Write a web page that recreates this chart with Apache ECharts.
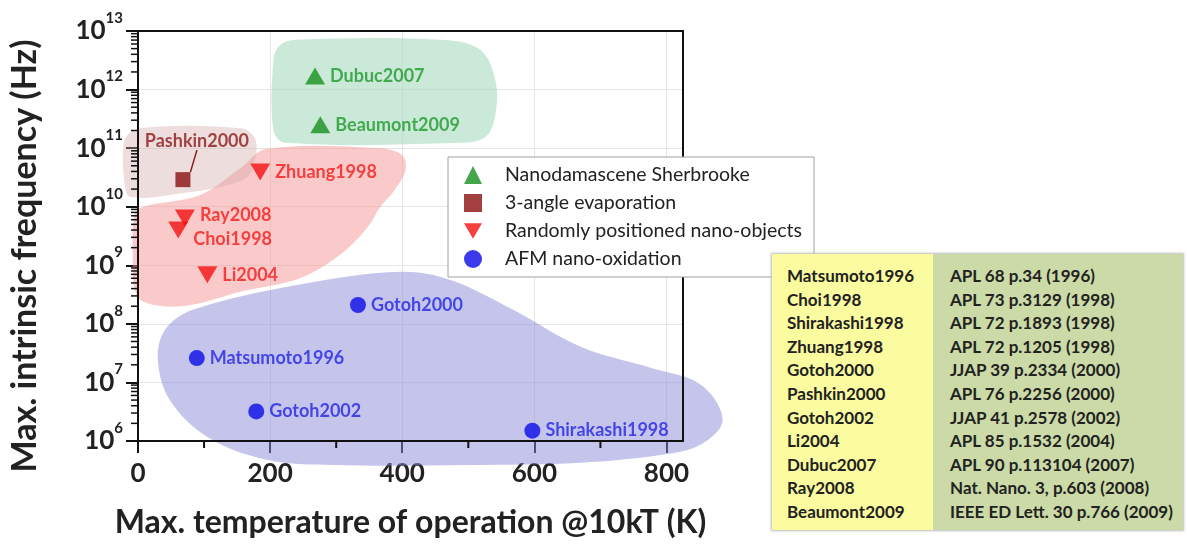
<!DOCTYPE html>
<html>
<head>
<meta charset="utf-8">
<script src="https://cdn.jsdelivr.net/npm/echarts@6/dist/echarts.min.js"></script>
<style>
html, body { margin: 0; padding: 0; background: #fff; }
#wrap { position: relative; width: 1187px; height: 544px; overflow: hidden; }
#chart { position: absolute; left: 0; top: 0; width: 1187px; height: 544px; }
#refs { position: absolute; left: 772px; top: 254px; width: 411px; height: 276px; display: flex;
        font: bold 17px Lato, sans-serif; color: #222; box-shadow: 0 0 2px 1px #bbb; z-index: 5; }
#refs .c1 { width: 161px; background: #fbfb9f; padding: 10px 0 0 15px; box-sizing: border-box; }
#refs .c2 { flex: 1; background: #cbdaa6; padding: 10px 0 0 17px; box-sizing: border-box; }
#refs .row { height: 23.6px; line-height: 23.6px; white-space: nowrap; }
</style>
</head>
<body>
<div id="wrap">
  <div id="chart"></div>
  <div id="refs"><div class="c1" id="refKeys"></div><div class="c2" id="refCites"></div></div>
</div>
<script>
// measured points: temperature (K), max frequency (Hz)
const sherbNames = ['Dubuc2007', 'Beaumont2009'];
const sherbTemp = [268, 276];
const sherbFreq = [1.7e12, 2.5e11];

const evapNames = ['Pashkin2000'];
const evapTemp = [68];
const evapFreq = [2.9e10];

const randNames = ['Zhuang1998', 'Ray2008', 'Choi1998', 'Li2004'];
const randTemp = [185, 71, 61, 105];
const randFreq = [3.9e10, 6.4e9, 4.0e9, 6.9e8];

const afmNames = ['Gotoh2000', 'Matsumoto1996', 'Gotoh2002', 'Shirakashi1998'];
const afmTemp = [333, 89, 179, 597];
const afmFreq = [2.1e8, 2.6e7, 3.2e6, 1.5e6];

// shaded zones, outline as [K, log10(Hz)]
const greenZone = [[238, 12.85], [458, 12.85], [518, 12.68], [541, 12.16], [541, 11.57], [526, 11.19],
  [488, 11.09], [223, 11.09], [205, 11.31], [205, 12.51], [215, 12.76]];
const brownZone = [[3, 11.34], [155, 11.34], [177, 11.17], [177, 10.80], [160, 10.46], [48, 10.20],
  [-12, 10.17], [-20, 10.37], [-20, 11.14]];
const redZone = [[8, 10.0], [94, 10.2], [155, 10.66], [195, 10.99], [367, 11.0], [400, 10.88], [405, 10.63],
  [389, 10.29], [367, 10.0], [347, 9.64], [306, 9.18], [245, 8.78], [155, 8.55], [79, 8.32], [26, 8.32],
  [-2, 8.49], [-8, 9.26], [-5, 9.86]];
const blueZone = [[83, 8.24], [245, 8.67], [397, 8.89], [473, 8.75], [568, 8.24], [670, 7.61], [776, 7.25],
  [852, 6.96], [885, 6.36], [852, 5.94], [791, 5.76], [670, 5.63], [503, 5.59], [295, 5.59], [195, 5.68],
  [105, 6.07], [48, 6.70], [30, 7.39], [41, 7.90]];

const xTicks = [0, 200, 400, 600, 800];
const xMinor = [100, 300, 500, 700];

const refKeys = ['Matsumoto1996', 'Choi1998', 'Shirakashi1998', 'Zhuang1998', 'Gotoh2000', 'Pashkin2000',
  'Gotoh2002', 'Li2004', 'Dubuc2007', 'Ray2008', 'Beaumont2009'];
const refCites = ['APL 68 p.34 (1996)', 'APL 73 p.3129 (1998)', 'APL 72 p.1893 (1998)', 'APL 72 p.1205 (1998)',
  'JJAP 39 p.2334 (2000)', 'APL 76 p.2256 (2000)', 'JJAP 41 p.2578 (2002)', 'APL 85 p.1532 (2004)',
  'APL 90 p.113104 (2007)', 'Nat. Nano. 3, p.603 (2008)', 'IEEE ED Lett. 30 p.766 (2009)'];

document.getElementById('refKeys').innerHTML = refKeys.map(k => '<div class="row">' + k + '</div>').join('');
document.getElementById('refCites').innerHTML = refCites.map(k => '<div class="row">' + k + '</div>').join('');

const yMinor = [];
for (let e = 6; e < 13; e++) {
  for (let m = 2; m <= 9; m++) yMinor.push(m * Math.pow(10, e));
}

const labelShift = { Ray2008: [0, -3], Choi1998: [0, 9] };

function points(names, temps, freqs) {
  return names.map((n, i) => {
    const item = { name: n, value: [temps[i], freqs[i]] };
    if (labelShift[n]) item.label = { offset: labelShift[n] };
    return item;
  });
}

function zone(outline, color) {
  return {
    type: 'custom',
    silent: true,
    clip: false,
    z: 1,
    data: [[outline[0][0], Math.pow(10, outline[0][1])]],
    renderItem: function (params, api) {
      const pts = outline.map(p => api.coord([p[0], Math.pow(10, p[1])]));
      return { type: 'polygon', shape: { points: pts, smooth: 0.35 }, style: { fill: color } };
    }
  };
}

function label(color) {
  return {
    show: true, position: 'right', distance: 5, formatter: '{b}',
    color: color, fontFamily: 'Lato', fontWeight: 'bold', fontSize: 18
  };
}

const chart = echarts.init(document.getElementById('chart'));

chart.setOption({
  animation: false,
  backgroundColor: '#fff',
  grid: { left: 138, right: 504, top: 31, bottom: 103, show: true, borderColor: '#111', borderWidth: 2, z: 3 },
  legend: {
    data: ['Nanodamascene Sherbrooke', '3-angle evaporation', 'Randomly positioned nano-objects', 'AFM nano-oxidation'],
    orient: 'vertical', left: 448, top: 157, padding: [8, 12, 8, 16],
    itemWidth: 18, itemHeight: 18, itemGap: 8,
    backgroundColor: '#fff', borderColor: '#a0a0a0', borderWidth: 1,
    selectedMode: false,
    textStyle: { fontFamily: 'Lato', fontSize: 19.5, lineHeight: 18, color: '#222', padding: [0, 0, 0, 18] }
  },
  xAxis: {
    type: 'value', min: 0, max: 825, interval: 200,
    name: 'Max. temperature of operation @10kT (K)',
    nameLocation: 'middle', nameGap: 66,
    nameTextStyle: { fontFamily: 'Lato', fontWeight: 'bold', fontSize: 32, color: '#222' },
    axisLine: { lineStyle: { color: '#111', width: 2 } },
    axisTick: { customValues: xTicks, length: 12, lineStyle: { color: '#111', width: 2 } },
    axisLabel: { customValues: xTicks, margin: 20, fontFamily: 'Lato', fontWeight: 'bold', fontSize: 26, color: '#222' },
    splitLine: { show: true, lineStyle: { color: '#e6e6e6', width: 1 } }
  },
  yAxis: {
    type: 'log', logBase: 10, min: 1e6, max: 1e13,
    name: 'Max. intrinsic frequency (Hz)',
    nameLocation: 'middle', nameGap: 96,
    nameTextStyle: { fontFamily: 'Lato', fontWeight: 'bold', fontSize: 34, color: '#222', padding: [0, 40, 0, 0] },
    axisLine: { lineStyle: { color: '#111', width: 2 } },
    axisTick: { length: 12, lineStyle: { color: '#111', width: 2 } },
    axisLabel: {
      margin: 15, color: '#222',
      formatter: v => '{b|10}{s|' + Math.round(Math.log10(v)) + '}',
      rich: {
        b: { fontFamily: 'Lato', fontWeight: 'bold', fontSize: 26, color: '#222' },
        s: { fontFamily: 'Lato', fontWeight: 'bold', fontSize: 15, color: '#222', padding: [0, 0, 26, 0] }
      }
    },
    splitLine: { show: true, lineStyle: { color: '#e6e6e6', width: 1 } }
  },
  series: [
    zone(greenZone, 'rgba(160, 215, 185, 0.55)'),
    zone(redZone, 'rgba(245, 150, 150, 0.5)'),
    zone(brownZone, 'rgba(210, 170, 168, 0.4)'),
    zone(blueZone, 'rgba(140, 140, 215, 0.5)'),
    {
      type: 'custom', silent: true, clip: false, z: 4,
      data: [[0, 1e6]],
      renderItem: function (params, api) {
        const children = [];
        yMinor.forEach(v => {
          const p = api.coord([0, v]);
          children.push({ type: 'line', shape: { x1: p[0] - 7, y1: p[1], x2: p[0], y2: p[1] },
            style: { stroke: '#111', lineWidth: 1.5 } });
        });
        xMinor.forEach(v => {
          const p = api.coord([v, 1e6]);
          children.push({ type: 'line', shape: { x1: p[0], y1: p[1], x2: p[0], y2: p[1] + 7 },
            style: { stroke: '#111', lineWidth: 2 } });
        });
        return { type: 'group', children: children };
      }
    },
    {
      name: 'Nanodamascene Sherbrooke', type: 'scatter', z: 3,
      symbol: 'triangle', symbolSize: [20, 17],
      itemStyle: { color: '#178f1d' },
      label: label('#1f9a2a'),
      data: points(sherbNames, sherbTemp, sherbFreq)
    },
    {
      name: '3-angle evaporation', type: 'scatter', z: 3,
      symbol: 'rect', symbolSize: 15,
      itemStyle: { color: '#8b1010' },
      label: Object.assign(label('#8b1a1a'), { position: 'top', distance: 10 }),
      labelLayout: { dx: 14, dy: -12 },
      labelLine: { show: true, lineStyle: { color: '#8b1a1a', width: 1.5 } },
      data: points(evapNames, evapTemp, evapFreq)
    },
    {
      name: 'Randomly positioned nano-objects', type: 'scatter', z: 3,
      symbol: 'path://M0,0L20,0L10,17Z', symbolSize: [20, 17],
      itemStyle: { color: '#f41010' },
      label: label('#f41a1a'),
      data: points(randNames, randTemp, randFreq)
    },
    {
      name: 'AFM nano-oxidation', type: 'scatter', z: 3,
      symbol: 'circle', symbolSize: 16,
      itemStyle: { color: '#0a0ae8' },
      label: label('#2424e6'),
      data: points(afmNames, afmTemp, afmFreq)
    }
  ]
});
</script>
</body>
</html>
